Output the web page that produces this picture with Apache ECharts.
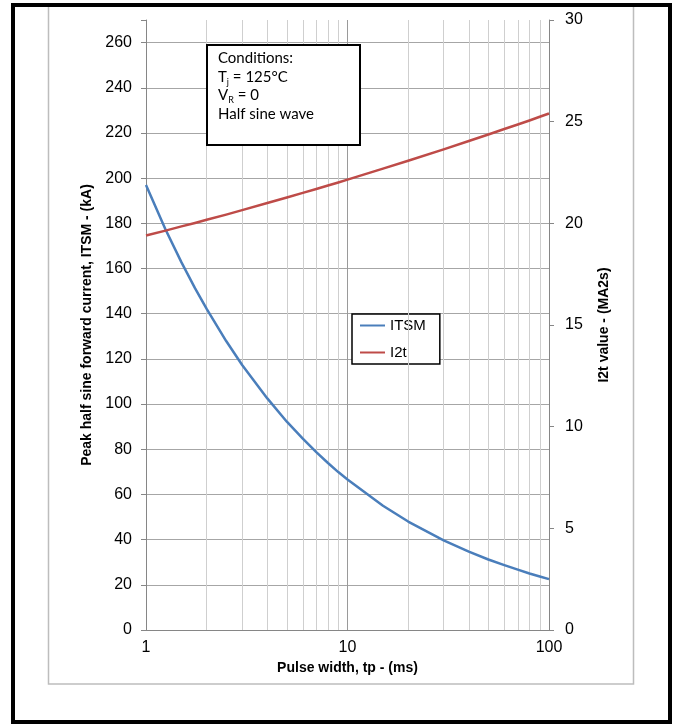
<!DOCTYPE html>
<html>
<head>
<meta charset="utf-8">
<script src="https://cdn.jsdelivr.net/npm/echarts@6/dist/echarts.min.js"></script>
<style>
html,body{margin:0;padding:0;background:#fff;}
#chart{width:677px;height:724px;}
</style>
</head>
<body>
<div id="chart"></div>
<script>
// Pulse width (ms)
var pulseWidth = [1, 1.25, 1.5, 1.75, 2, 2.5, 3, 4, 5, 6, 7, 8, 9, 10, 15, 20, 30, 40, 50, 60, 70, 80, 90, 100];
// Peak half sine forward current ITSM (kA)
var itsm = [197, 177.3, 162.7, 151.3, 142.1, 127.9, 117.3, 102.5, 92.2, 84.7, 78.7, 73.9, 69.9, 66.6, 55, 48, 39.7, 34.7, 31.2, 28.7, 26.7, 25, 23.7, 22.5];
// I2t value (MA2s)
var i2t = [19.4, 19.64, 19.85, 20.02, 20.18, 20.43, 20.65, 21.0, 21.27, 21.5, 21.69, 21.86, 22.01, 22.15, 22.69, 23.08, 23.64, 24.05, 24.37, 24.64, 24.86, 25.06, 25.24, 25.4];
// minor vertical grid positions
var minorX = [2, 3, 4, 5, 6, 7, 8, 9, 20, 30, 40, 50, 60, 70, 80, 90];
var seriesNames = ['ITSM', 'I2t'];

function pairs(xs, ys) { return xs.map(function (x, i) { return [x, ys[i]]; }); }

var chart = echarts.init(document.getElementById('chart'), null, {renderer: 'canvas'});
var gridColors = [];
for (var k = 0; k < 14; k++) gridColors.push('#a6a6a6');
gridColors.push('rgba(0,0,0,0)');

chart.setOption({
  animation: false,
  backgroundColor: '#ffffff',
  textStyle: {fontFamily: 'Liberation Sans'},
  grid: {left: 146, right: 128, top: 20, height: 610, containLabel: false},
  legend: {
    data: seriesNames,
    orient: 'vertical',
    left: 352, top: 314,
    padding: [4, 14, 4, 8],
    itemGap: 12,
    itemWidth: 25, itemHeight: 2,
    icon: 'rect',
    backgroundColor: '#ffffff',
    borderColor: '#000000', borderWidth: 1.5,
    textStyle: {fontSize: 15, color: '#000', fontFamily: 'Liberation Sans'}
  },
  xAxis: {
    type: 'log', logBase: 10, min: 1, max: 100,
    name: 'Pulse width, tp - (ms)', nameLocation: 'middle', nameGap: 26,
    nameTextStyle: {fontSize: 14, fontWeight: 'bold', color: '#000', fontFamily: 'Liberation Sans'},
    axisLine: {show: true, onZero: false, lineStyle: {color: '#868686', width: 1}},
    axisTick: {show: false},
    axisLabel: {fontSize: 16, color: '#000', margin: 10},
    splitLine: {show: true, lineStyle: {color: '#9a9a9a', width: 1}}
  },
  yAxis: [{
    type: 'value', min: 0, max: 270, interval: 20, position: 'left',
    name: 'Peak half sine forward current, ITSM - (kA)', nameLocation: 'middle', nameGap: 52, nameRotate: 90,
    nameTextStyle: {fontSize: 14, fontWeight: 'bold', color: '#000', fontFamily: 'Liberation Sans'},
    axisLine: {show: true, lineStyle: {color: '#868686', width: 1}},
    axisTick: {show: true, inside: false, length: 5, lineStyle: {color: '#868686'}},
    axisLabel: {fontSize: 16, color: '#000', margin: 14, formatter: function (v) { return v > 260 ? '' : String(v); }},
    splitLine: {show: true, lineStyle: {color: gridColors, width: 1}}
  }, {
    type: 'value', min: 0, max: 30, interval: 5, position: 'right',
    name: 'I2t value - (MA2s)', nameLocation: 'middle', nameGap: 48, nameRotate: 90,
    nameTextStyle: {fontSize: 14, fontWeight: 'bold', color: '#000', fontFamily: 'Liberation Sans'},
    axisLine: {show: true, lineStyle: {color: '#868686', width: 1}},
    axisTick: {show: true, inside: false, length: 5, lineStyle: {color: '#868686'}},
    axisLabel: {fontSize: 16, color: '#000', margin: 16},
    splitLine: {show: false}
  }],
  graphic: [
    {type: 'rect', z: 100, silent: true, shape: {x: 13, y: 5, width: 657, height: 717},
      style: {fill: 'none', stroke: '#000', lineWidth: 4}},
    {type: 'rect', z: 99, silent: true, shape: {x: 48.5, y: 6, width: 585, height: 678},
      style: {fill: 'none', stroke: '#bdbdbd', lineWidth: 1.5}},
    {type: 'rect', z: 100, silent: true, shape: {x: 207, y: 45, width: 153, height: 100},
      style: {fill: '#fff', stroke: '#000', lineWidth: 2}},
    {type: 'text', z: 101, silent: true, left: 218, top: 51,
      style: {
        text: '{n|Conditions:}\n{n|T}{s|j}{n| = 125°C}\n{n|V}{s|R}{n| = 0}\n{n|Half sine wave}',
        fontFamily: 'Lato', fontSize: 15, fill: '#000',
        rich: {
          n: {fontFamily: 'Lato', fontSize: 15, lineHeight: 18.5, fill: '#000'},
          s: {fontFamily: 'Lato', fontSize: 9, lineHeight: 7, fill: '#000', verticalAlign: 'bottom'}
        }
      }}
  ],
  series: [
    {
      name: 'grid-minor', type: 'line', data: [], z: 1, silent: true,
      markLine: {
        silent: true, symbol: ['none', 'none'], label: {show: false},
        lineStyle: {color: '#cfcfcf', width: 1, type: 'solid'},
        emphasis: {disabled: true},
        data: minorX.map(function (v) { return {xAxis: v}; })
      }
    },
    {
      name: 'ITSM', type: 'line', yAxisIndex: 0, data: pairs(pulseWidth, itsm),
      smooth: false, symbol: 'none', z: 5,
      lineStyle: {color: '#4a7ebb', width: 2.5, join: 'round'}, itemStyle: {color: '#4a7ebb'}
    },
    {
      name: 'I2t', type: 'line', yAxisIndex: 1, data: pairs(pulseWidth, i2t),
      smooth: false, symbol: 'none', z: 5,
      lineStyle: {color: '#be4b48', width: 2.5, join: 'round'}, itemStyle: {color: '#be4b48'}
    }
  ]
});
</script>
</body>
</html>
